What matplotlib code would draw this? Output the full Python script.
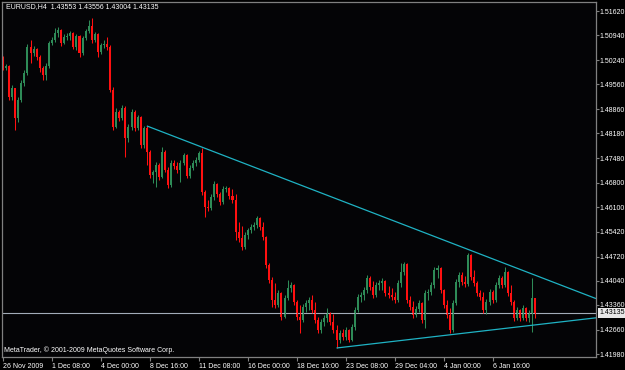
import numpy as np
import pandas as pd
import matplotlib
matplotlib.use("Agg")
import matplotlib.pyplot as plt
from matplotlib.transforms import blended_transform_factory

# EURUSD H4 bars (open of each bar = previous close)
first_open = 1.5030
closes = [
    1.5002, 1.5008, 1.4920, 1.4946, 1.4861, 1.4912, 1.4960, 1.4988, 1.5061, 1.5044,
    1.5055, 1.5033, 1.5002, 1.4982, 1.5008, 1.5072, 1.5081, 1.5100, 1.5109, 1.5072,
    1.5089, 1.5092, 1.5100, 1.5061, 1.5092, 1.5044, 1.5086, 1.5106, 1.5120, 1.5081,
    1.5097, 1.5047, 1.5067, 1.5069, 1.5061, 1.4940, 1.4836, 1.4878, 1.4861, 1.4890,
    1.4805, 1.4836, 1.4878, 1.4833, 1.4864, 1.4786, 1.4833, 1.4766, 1.4701, 1.4710,
    1.4729, 1.4696, 1.4766, 1.4715, 1.4673, 1.4735, 1.4727, 1.4715, 1.4735, 1.4757,
    1.4698, 1.4721, 1.4735, 1.4743, 1.4763, 1.4654, 1.4611, 1.4609, 1.4639, 1.4676,
    1.4648, 1.4625, 1.4662, 1.4665, 1.4642, 1.4631, 1.4541, 1.4524, 1.4499, 1.4533,
    1.4547, 1.4555, 1.4561, 1.4580, 1.4555, 1.4527, 1.4448, 1.4406, 1.4350, 1.4336,
    1.4370, 1.4302, 1.4356, 1.4384, 1.4392, 1.4344, 1.4302, 1.4294, 1.4330, 1.4342,
    1.4350, 1.4322, 1.4294, 1.4266, 1.4288, 1.4299, 1.4313, 1.4288, 1.4266, 1.4238,
    1.4257, 1.4246, 1.4266, 1.4238, 1.4274, 1.4322, 1.4358, 1.4364, 1.4378, 1.4412,
    1.4386, 1.4364, 1.4392, 1.4398, 1.4403, 1.4370, 1.4364, 1.4358, 1.4350, 1.4398,
    1.4429, 1.4451, 1.4350, 1.4330, 1.4308, 1.4325, 1.4342, 1.4294, 1.4370, 1.4372,
    1.4392, 1.4434, 1.4440, 1.4378, 1.4336, 1.4308, 1.4266, 1.4342, 1.4401, 1.4420,
    1.4401, 1.4395, 1.4476, 1.4415, 1.4398, 1.4370, 1.4358, 1.4322, 1.4344, 1.4372,
    1.4350, 1.4392, 1.4412, 1.4392, 1.4429, 1.4370, 1.4344, 1.4299, 1.4322, 1.4299,
    1.4328, 1.4299, 1.4313, 1.43553, 1.43135,
]
highs = [
    1.5036, 1.5013, 1.5010, 1.4954, 1.4946, 1.4920, 1.4968, 1.4996, 1.5069, 1.5081,
    1.5064, 1.5058, 1.5038, 1.5008, 1.5016, 1.5078, 1.5089, 1.5114, 1.5117, 1.5111,
    1.5097, 1.5100, 1.5106, 1.5103, 1.5097, 1.5095, 1.5092, 1.5111, 1.5137, 1.5142,
    1.5103, 1.5100, 1.5072, 1.5081, 1.5089, 1.5067, 1.4949, 1.4890, 1.4884, 1.4898,
    1.4895, 1.4845, 1.4887, 1.4884, 1.4870, 1.4867, 1.4839, 1.4839, 1.4772, 1.4715,
    1.4738, 1.4735, 1.4780, 1.4772, 1.4724, 1.4743, 1.4743, 1.4738, 1.4743, 1.4763,
    1.4760, 1.4729, 1.4743, 1.4752, 1.4769, 1.4777, 1.4659, 1.4631, 1.4648, 1.4684,
    1.4679, 1.4654, 1.4670, 1.4670, 1.4668, 1.4662, 1.4648, 1.4569, 1.4558, 1.4541,
    1.4552, 1.4564, 1.4569, 1.4586, 1.4583, 1.4569, 1.4530, 1.4454, 1.4415, 1.4398,
    1.4378, 1.4372, 1.4364, 1.4406, 1.4401, 1.4395, 1.4350, 1.4336, 1.4339, 1.4350,
    1.4358, 1.4364, 1.4344, 1.4302, 1.4297, 1.4308, 1.4328, 1.4316, 1.4311, 1.4280,
    1.4266, 1.4269, 1.4274, 1.4269, 1.4283, 1.4330, 1.4367, 1.4372, 1.4386, 1.4420,
    1.4417, 1.4403, 1.4401, 1.4406, 1.4412, 1.4406, 1.4389, 1.4384, 1.4372, 1.4406,
    1.4454, 1.4457, 1.4454, 1.4361, 1.4347, 1.4333, 1.4350, 1.4344, 1.4378, 1.4381,
    1.4401, 1.4443, 1.4448, 1.4443, 1.4381, 1.4350, 1.4328, 1.4350, 1.4409, 1.4429,
    1.4429, 1.4417, 1.4482, 1.4479, 1.4434, 1.4403, 1.4378, 1.4372, 1.4353, 1.4381,
    1.4378, 1.4401, 1.4420, 1.4417, 1.4443, 1.4431, 1.4392, 1.4350, 1.4330, 1.4325,
    1.4336, 1.4330, 1.4322, 1.4412, 1.43556,
]
lows = [
    1.4996, 1.4996, 1.4912, 1.4912, 1.4828, 1.4850, 1.4906, 1.4951, 1.4982, 1.5016,
    1.5036, 1.5024, 1.4991, 1.4968, 1.4968, 1.5002, 1.5067, 1.5075, 1.5089, 1.5064,
    1.5069, 1.5081, 1.5081, 1.5055, 1.5053, 1.5033, 1.5038, 1.5081, 1.5100, 1.5072,
    1.5075, 1.5033, 1.5041, 1.5058, 1.5053, 1.4934, 1.4828, 1.4833, 1.4853, 1.4856,
    1.4752, 1.4794, 1.4828, 1.4825, 1.4828, 1.4777, 1.4777, 1.4729, 1.4693, 1.4679,
    1.4668, 1.4687, 1.4693, 1.4710, 1.4665, 1.4668, 1.4718, 1.4707, 1.4682, 1.4729,
    1.4693, 1.4693, 1.4715, 1.4727, 1.4738, 1.4645, 1.4583, 1.4600, 1.4603, 1.4631,
    1.4639, 1.4617, 1.4620, 1.4654, 1.4634, 1.4623, 1.4519, 1.4513, 1.4491, 1.4493,
    1.4521, 1.4538, 1.4547, 1.4552, 1.4547, 1.4519, 1.4440, 1.4398, 1.4330, 1.4328,
    1.4330, 1.4294, 1.4299, 1.4350, 1.4372, 1.4336, 1.4294, 1.4257, 1.4288, 1.4316,
    1.4322, 1.4313, 1.4285, 1.4257, 1.4257, 1.4277, 1.4288, 1.4280, 1.4257, 1.4215,
    1.4229, 1.4238, 1.4238, 1.4232, 1.4235, 1.4266, 1.4316, 1.4344, 1.4350, 1.4370,
    1.4378, 1.4356, 1.4358, 1.4378, 1.4378, 1.4361, 1.4356, 1.4350, 1.4342, 1.4344,
    1.4386, 1.4420, 1.4342, 1.4322, 1.4299, 1.4302, 1.4316, 1.4285, 1.4271, 1.4350,
    1.4364, 1.4384, 1.4412, 1.4370, 1.4328, 1.4299, 1.4257, 1.4260, 1.4336, 1.4386,
    1.4392, 1.4386, 1.4389, 1.4406, 1.4389, 1.4361, 1.4350, 1.4313, 1.4311, 1.4336,
    1.4342, 1.4344, 1.4384, 1.4384, 1.4386, 1.4361, 1.4336, 1.4291, 1.4294, 1.4291,
    1.4294, 1.4291, 1.4288, 1.4260, 1.43004,
]
opens = [first_open] + closes[:-1]

date_ticks = [0, 16, 32, 48, 64, 80, 96, 112, 128, 144, 160]
date_labels = ["26 Nov 2009", "1 Dec 08:00", "4 Dec 00:00", "8 Dec 16:00",
               "11 Dec 08:00", "16 Dec 00:00", "18 Dec 16:00", "23 Dec 08:00",
               "29 Dec 04:00", "4 Jan 00:00", "6 Jan 16:00"]
price_ticks = [1.51620, 1.50940, 1.50240, 1.49560, 1.48860, 1.48180, 1.47480,
               1.46800, 1.46100, 1.45420, 1.44720, 1.44040, 1.43360, 1.42660, 1.41980]
last_price = 1.43135

# trend lines: two anchor points each (bar, price), drawn as rays to the right
upper_bars, upper_prices = [47, 152], [1.4839, 1.4492]
lower_bars, lower_prices = [109, 173], [1.4215, 1.4279]

UP = "#2e8b57"
DOWN = "#ff1010"
TREND = "#1fb3c4"
GRID = "#808080"
FONT = "Liberation Sans"
FS = 5.0

df = pd.DataFrame({"open": opens, "high": highs, "low": lows, "close": closes})

fig = plt.figure(figsize=(6.25, 3.7), dpi=100, facecolor="black")
ax = fig.add_axes([2 / 625, 13 / 370, 594 / 625, 355 / 370], facecolor="#040406")

xmin, xmax = -0.33, 193.8
ax.set_xlim(xmin, xmax)
ax.set_ylim(1.41897, 1.51873)

colors = np.where(df["close"] >= df["open"], UP, DOWN)
ax.vlines(df.index, df["low"], df["high"], colors=colors, lw=0.75)
ax.bar(df.index, df["close"] - df["open"], bottom=df["open"], width=0.66,
       color=colors, linewidth=0)

# current price line
ax.axhline(last_price, color="#a3acb8", lw=0.8, zorder=1)

for bars, prices in [(upper_bars, upper_prices), (lower_bars, lower_prices)]:
    slope = (prices[1] - prices[0]) / (bars[1] - bars[0])
    ax.plot([bars[0], xmax], [prices[0], prices[0] + slope * (xmax - bars[0])],
            color=TREND, lw=0.9, solid_capstyle="butt")

for s in ax.spines.values():
    s.set_color(GRID)
    s.set_linewidth(0.9)

ax.yaxis.tick_right()
ax.set_yticks(price_ticks)
ax.set_yticklabels([f"{p:.5f}" for p in price_ticks])
ax.set_xticks(date_ticks)
ax.set_xticklabels(date_labels)
ax.tick_params(axis="y", length=2, width=0.8, color=GRID, pad=0.8,
               labelsize=FS, labelcolor="white")
ax.tick_params(axis="x", length=3, width=0.8, color=GRID, pad=1.0,
               labelsize=FS, labelcolor="white")
for lbl in ax.get_xticklabels():
    lbl.set_ha("left")
for lbl in ax.get_xticklabels() + ax.get_yticklabels():
    lbl.set_family(FONT)

ax.text(0.0067, 0.986, "EURUSD,H4  1.43553 1.43556 1.43004 1.43135",
        transform=ax.transAxes, ha="left", va="center", color="white",
        fontsize=FS, family=FONT)
ax.text(0.004, 0.02, "MetaTrader, \u00a9 2001-2009 MetaQuotes Software Corp.",
        transform=ax.transAxes, ha="left", va="center", color="white",
        fontsize=FS, family=FONT)

trans = blended_transform_factory(ax.transAxes, ax.transData)
ax.text(1.006, last_price, "1.43135", transform=trans, ha="left", va="center",
        color="black", fontsize=FS, family=FONT, clip_on=False,
        bbox=dict(boxstyle="square,pad=0.2", fc="#e8e8e8", ec="none"))

fig.savefig("out.png", dpi=100, facecolor="black")
